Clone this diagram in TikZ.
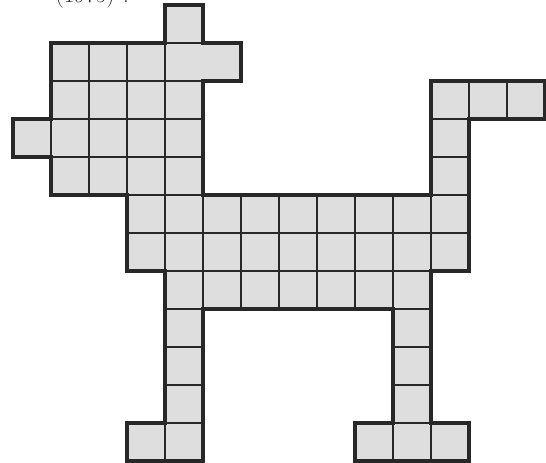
\documentclass[tikz,border=0pt]{standalone}
\usepackage{xcolor}
\definecolor{cellgray}{RGB}{222,222,222}
\definecolor{inkline}{RGB}{40,40,40}
\usetikzlibrary{positioning}

\begin{document}
\begin{tikzpicture}[x=1cm, y=-1cm,
    cell/.style={fill=cellgray, draw=inkline, line width=1.4pt},
    rim/.style={draw=inkline, line width=3.4pt, line join=miter}]
  % page frame
  \useasboundingbox (-0.342,-0.132) rectangle (14.026,12.026);
  \clip (-0.342,-0.132) rectangle (14.026,12.026);
  % caption cut off at the top
  \node[font=\LARGE, anchor=base west, inkline] (caption) at (1.0,-0.06) {(1975) ?};
  % squares, row by row
  \foreach \r/\cols in {0/{4}, 1/{1,2,3}, 2/{1,2,3,4,11,12,13}, 3/{0,1,2,3,4,11},
      4/{1,2,3,4,11}, 5/{3,4,5,6,7,8,9,10,11}, 6/{3,4,5,6,7,8,9,10,11},
      7/{4,5,6,7,8,9,10}, 8/{4,10}, 9/{4,10}, 10/{4,10}, 11/{3,4,9,10,11}}
    \foreach \c in \cols
      \draw[cell] (\c,\r) rectangle ++(1,1);
  % double square beside the ear
  \draw[cell] (4,1) rectangle (6,2);
  % thick outline of the dog
  \draw[rim] (4,0) -- (5,0) -- (5,1) -- (6,1) -- (6,2) -- (5,2) -- (5,5)
    -- (11,5) -- (11,2) -- (14,2) -- (14,3) -- (12,3) -- (12,7) -- (11,7)
    -- (11,11) -- (12,11) -- (12,12) -- (9,12) -- (9,11) -- (10,11) -- (10,8)
    -- (5,8) -- (5,12) -- (3,12) -- (3,11) -- (4,11) -- (4,7) -- (3,7)
    -- (3,5) -- (1,5) -- (1,4) -- (0,4) -- (0,3) -- (1,3) -- (1,1) -- (4,1) -- cycle;
\end{tikzpicture}
\end{document}
